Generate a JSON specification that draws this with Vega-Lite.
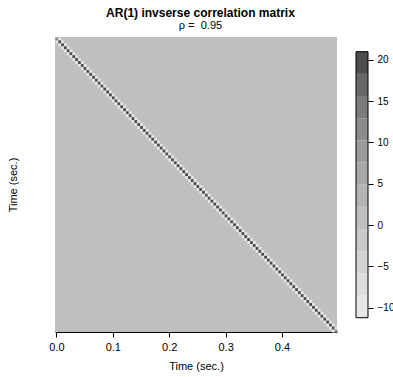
{
  "$schema": "https://vega.github.io/schema/vega-lite/v6.json",
  "padding": {"left": 7, "top": 7, "right": 5, "bottom": 5},
  "background": "white",
  "title": {"text": "AR(1) invserse correlation matrix", "subtitle": "ρ = \u00a00.95", "fontSize": 12, "fontWeight": "bold", "subtitleFontSize": 11, "color": "#000", "subtitleColor": "#000", "anchor": "middle", "font": "Liberation Sans", "subtitleFont": "Liberation Sans", "subtitlePadding": 0, "offset": 5},
  "spacing": 17,
  "hconcat": [
    {
      "width": 282,
      "height": 295,
      "layer": [
        {
          "data": {"values": [{"t": -0.0025, "t_end": 0.4975, "s": -0.0025, "s_end": 0.4975, "v": 0}]},
          "mark": {"type": "rect"},
          "encoding": {
            "x": {"field": "t", "type": "quantitative", "title": "Time (sec.)", "scale": {"domain": [-0.0025, 0.4975], "nice": false, "zero": false},
                  "axis": {"values": [0, 0.1, 0.2, 0.3, 0.4], "format": ".1f", "tickSize": 5, "labelFontSize": 11, "labelPadding": 4, "titleFontSize": 11, "titlePadding": 8}},
            "x2": {"field": "t_end"},
            "y": {"field": "s", "type": "quantitative", "title": "Time (sec.)", "scale": {"domain": [-0.0025, 0.4975], "nice": false, "zero": false, "reverse": true},
                  "axis": {"labels": false, "ticks": false, "domain": false, "titleFontSize": 11, "titlePadding": 37}},
            "y2": {"field": "s_end"},
            "color": {"field": "v", "type": "quantitative", "legend": null,
                      "scale": {"type": "threshold", "domain": [-8.5246, -5.8428, -3.1609, -0.4791, 2.2027, 4.8846, 7.5664, 10.2482, 12.9301, 15.6119, 18.2937],
                                "range": ["#E6E6E6", "#DDDDDD", "#D3D3D3", "#CACACA", "#BFBFBF", "#B4B4B4", "#A8A8A8", "#9B9B9B", "#8C8C8C", "#7B7B7B", "#676767", "#4D4D4D"]}}
          }
        },
        {
          "data": {"values": [
{"t":0,"s":0,"v":10.26},{"t":0.005,"s":0,"v":-9.74},{"t":0,"s":0.005,"v":-9.74},
{"t":0.005,"s":0.005,"v":19.51},{"t":0.01,"s":0.005,"v":-9.74},{"t":0.005,"s":0.01,"v":-9.74},
{"t":0.01,"s":0.01,"v":19.51},{"t":0.015,"s":0.01,"v":-9.74},{"t":0.01,"s":0.015,"v":-9.74},
{"t":0.015,"s":0.015,"v":19.51},{"t":0.02,"s":0.015,"v":-9.74},{"t":0.015,"s":0.02,"v":-9.74},
{"t":0.02,"s":0.02,"v":19.51},{"t":0.025,"s":0.02,"v":-9.74},{"t":0.02,"s":0.025,"v":-9.74},
{"t":0.025,"s":0.025,"v":19.51},{"t":0.03,"s":0.025,"v":-9.74},{"t":0.025,"s":0.03,"v":-9.74},
{"t":0.03,"s":0.03,"v":19.51},{"t":0.035,"s":0.03,"v":-9.74},{"t":0.03,"s":0.035,"v":-9.74},
{"t":0.035,"s":0.035,"v":19.51},{"t":0.04,"s":0.035,"v":-9.74},{"t":0.035,"s":0.04,"v":-9.74},
{"t":0.04,"s":0.04,"v":19.51},{"t":0.045,"s":0.04,"v":-9.74},{"t":0.04,"s":0.045,"v":-9.74},
{"t":0.045,"s":0.045,"v":19.51},{"t":0.05,"s":0.045,"v":-9.74},{"t":0.045,"s":0.05,"v":-9.74},
{"t":0.05,"s":0.05,"v":19.51},{"t":0.055,"s":0.05,"v":-9.74},{"t":0.05,"s":0.055,"v":-9.74},
{"t":0.055,"s":0.055,"v":19.51},{"t":0.06,"s":0.055,"v":-9.74},{"t":0.055,"s":0.06,"v":-9.74},
{"t":0.06,"s":0.06,"v":19.51},{"t":0.065,"s":0.06,"v":-9.74},{"t":0.06,"s":0.065,"v":-9.74},
{"t":0.065,"s":0.065,"v":19.51},{"t":0.07,"s":0.065,"v":-9.74},{"t":0.065,"s":0.07,"v":-9.74},
{"t":0.07,"s":0.07,"v":19.51},{"t":0.075,"s":0.07,"v":-9.74},{"t":0.07,"s":0.075,"v":-9.74},
{"t":0.075,"s":0.075,"v":19.51},{"t":0.08,"s":0.075,"v":-9.74},{"t":0.075,"s":0.08,"v":-9.74},
{"t":0.08,"s":0.08,"v":19.51},{"t":0.085,"s":0.08,"v":-9.74},{"t":0.08,"s":0.085,"v":-9.74},
{"t":0.085,"s":0.085,"v":19.51},{"t":0.09,"s":0.085,"v":-9.74},{"t":0.085,"s":0.09,"v":-9.74},
{"t":0.09,"s":0.09,"v":19.51},{"t":0.095,"s":0.09,"v":-9.74},{"t":0.09,"s":0.095,"v":-9.74},
{"t":0.095,"s":0.095,"v":19.51},{"t":0.1,"s":0.095,"v":-9.74},{"t":0.095,"s":0.1,"v":-9.74},
{"t":0.1,"s":0.1,"v":19.51},{"t":0.105,"s":0.1,"v":-9.74},{"t":0.1,"s":0.105,"v":-9.74},
{"t":0.105,"s":0.105,"v":19.51},{"t":0.11,"s":0.105,"v":-9.74},{"t":0.105,"s":0.11,"v":-9.74},
{"t":0.11,"s":0.11,"v":19.51},{"t":0.115,"s":0.11,"v":-9.74},{"t":0.11,"s":0.115,"v":-9.74},
{"t":0.115,"s":0.115,"v":19.51},{"t":0.12,"s":0.115,"v":-9.74},{"t":0.115,"s":0.12,"v":-9.74},
{"t":0.12,"s":0.12,"v":19.51},{"t":0.125,"s":0.12,"v":-9.74},{"t":0.12,"s":0.125,"v":-9.74},
{"t":0.125,"s":0.125,"v":19.51},{"t":0.13,"s":0.125,"v":-9.74},{"t":0.125,"s":0.13,"v":-9.74},
{"t":0.13,"s":0.13,"v":19.51},{"t":0.135,"s":0.13,"v":-9.74},{"t":0.13,"s":0.135,"v":-9.74},
{"t":0.135,"s":0.135,"v":19.51},{"t":0.14,"s":0.135,"v":-9.74},{"t":0.135,"s":0.14,"v":-9.74},
{"t":0.14,"s":0.14,"v":19.51},{"t":0.145,"s":0.14,"v":-9.74},{"t":0.14,"s":0.145,"v":-9.74},
{"t":0.145,"s":0.145,"v":19.51},{"t":0.15,"s":0.145,"v":-9.74},{"t":0.145,"s":0.15,"v":-9.74},
{"t":0.15,"s":0.15,"v":19.51},{"t":0.155,"s":0.15,"v":-9.74},{"t":0.15,"s":0.155,"v":-9.74},
{"t":0.155,"s":0.155,"v":19.51},{"t":0.16,"s":0.155,"v":-9.74},{"t":0.155,"s":0.16,"v":-9.74},
{"t":0.16,"s":0.16,"v":19.51},{"t":0.165,"s":0.16,"v":-9.74},{"t":0.16,"s":0.165,"v":-9.74},
{"t":0.165,"s":0.165,"v":19.51},{"t":0.17,"s":0.165,"v":-9.74},{"t":0.165,"s":0.17,"v":-9.74},
{"t":0.17,"s":0.17,"v":19.51},{"t":0.175,"s":0.17,"v":-9.74},{"t":0.17,"s":0.175,"v":-9.74},
{"t":0.175,"s":0.175,"v":19.51},{"t":0.18,"s":0.175,"v":-9.74},{"t":0.175,"s":0.18,"v":-9.74},
{"t":0.18,"s":0.18,"v":19.51},{"t":0.185,"s":0.18,"v":-9.74},{"t":0.18,"s":0.185,"v":-9.74},
{"t":0.185,"s":0.185,"v":19.51},{"t":0.19,"s":0.185,"v":-9.74},{"t":0.185,"s":0.19,"v":-9.74},
{"t":0.19,"s":0.19,"v":19.51},{"t":0.195,"s":0.19,"v":-9.74},{"t":0.19,"s":0.195,"v":-9.74},
{"t":0.195,"s":0.195,"v":19.51},{"t":0.2,"s":0.195,"v":-9.74},{"t":0.195,"s":0.2,"v":-9.74},
{"t":0.2,"s":0.2,"v":19.51},{"t":0.205,"s":0.2,"v":-9.74},{"t":0.2,"s":0.205,"v":-9.74},
{"t":0.205,"s":0.205,"v":19.51},{"t":0.21,"s":0.205,"v":-9.74},{"t":0.205,"s":0.21,"v":-9.74},
{"t":0.21,"s":0.21,"v":19.51},{"t":0.215,"s":0.21,"v":-9.74},{"t":0.21,"s":0.215,"v":-9.74},
{"t":0.215,"s":0.215,"v":19.51},{"t":0.22,"s":0.215,"v":-9.74},{"t":0.215,"s":0.22,"v":-9.74},
{"t":0.22,"s":0.22,"v":19.51},{"t":0.225,"s":0.22,"v":-9.74},{"t":0.22,"s":0.225,"v":-9.74},
{"t":0.225,"s":0.225,"v":19.51},{"t":0.23,"s":0.225,"v":-9.74},{"t":0.225,"s":0.23,"v":-9.74},
{"t":0.23,"s":0.23,"v":19.51},{"t":0.235,"s":0.23,"v":-9.74},{"t":0.23,"s":0.235,"v":-9.74},
{"t":0.235,"s":0.235,"v":19.51},{"t":0.24,"s":0.235,"v":-9.74},{"t":0.235,"s":0.24,"v":-9.74},
{"t":0.24,"s":0.24,"v":19.51},{"t":0.245,"s":0.24,"v":-9.74},{"t":0.24,"s":0.245,"v":-9.74},
{"t":0.245,"s":0.245,"v":19.51},{"t":0.25,"s":0.245,"v":-9.74},{"t":0.245,"s":0.25,"v":-9.74},
{"t":0.25,"s":0.25,"v":19.51},{"t":0.255,"s":0.25,"v":-9.74},{"t":0.25,"s":0.255,"v":-9.74},
{"t":0.255,"s":0.255,"v":19.51},{"t":0.26,"s":0.255,"v":-9.74},{"t":0.255,"s":0.26,"v":-9.74},
{"t":0.26,"s":0.26,"v":19.51},{"t":0.265,"s":0.26,"v":-9.74},{"t":0.26,"s":0.265,"v":-9.74},
{"t":0.265,"s":0.265,"v":19.51},{"t":0.27,"s":0.265,"v":-9.74},{"t":0.265,"s":0.27,"v":-9.74},
{"t":0.27,"s":0.27,"v":19.51},{"t":0.275,"s":0.27,"v":-9.74},{"t":0.27,"s":0.275,"v":-9.74},
{"t":0.275,"s":0.275,"v":19.51},{"t":0.28,"s":0.275,"v":-9.74},{"t":0.275,"s":0.28,"v":-9.74},
{"t":0.28,"s":0.28,"v":19.51},{"t":0.285,"s":0.28,"v":-9.74},{"t":0.28,"s":0.285,"v":-9.74},
{"t":0.285,"s":0.285,"v":19.51},{"t":0.29,"s":0.285,"v":-9.74},{"t":0.285,"s":0.29,"v":-9.74},
{"t":0.29,"s":0.29,"v":19.51},{"t":0.295,"s":0.29,"v":-9.74},{"t":0.29,"s":0.295,"v":-9.74},
{"t":0.295,"s":0.295,"v":19.51},{"t":0.3,"s":0.295,"v":-9.74},{"t":0.295,"s":0.3,"v":-9.74},
{"t":0.3,"s":0.3,"v":19.51},{"t":0.305,"s":0.3,"v":-9.74},{"t":0.3,"s":0.305,"v":-9.74},
{"t":0.305,"s":0.305,"v":19.51},{"t":0.31,"s":0.305,"v":-9.74},{"t":0.305,"s":0.31,"v":-9.74},
{"t":0.31,"s":0.31,"v":19.51},{"t":0.315,"s":0.31,"v":-9.74},{"t":0.31,"s":0.315,"v":-9.74},
{"t":0.315,"s":0.315,"v":19.51},{"t":0.32,"s":0.315,"v":-9.74},{"t":0.315,"s":0.32,"v":-9.74},
{"t":0.32,"s":0.32,"v":19.51},{"t":0.325,"s":0.32,"v":-9.74},{"t":0.32,"s":0.325,"v":-9.74},
{"t":0.325,"s":0.325,"v":19.51},{"t":0.33,"s":0.325,"v":-9.74},{"t":0.325,"s":0.33,"v":-9.74},
{"t":0.33,"s":0.33,"v":19.51},{"t":0.335,"s":0.33,"v":-9.74},{"t":0.33,"s":0.335,"v":-9.74},
{"t":0.335,"s":0.335,"v":19.51},{"t":0.34,"s":0.335,"v":-9.74},{"t":0.335,"s":0.34,"v":-9.74},
{"t":0.34,"s":0.34,"v":19.51},{"t":0.345,"s":0.34,"v":-9.74},{"t":0.34,"s":0.345,"v":-9.74},
{"t":0.345,"s":0.345,"v":19.51},{"t":0.35,"s":0.345,"v":-9.74},{"t":0.345,"s":0.35,"v":-9.74},
{"t":0.35,"s":0.35,"v":19.51},{"t":0.355,"s":0.35,"v":-9.74},{"t":0.35,"s":0.355,"v":-9.74},
{"t":0.355,"s":0.355,"v":19.51},{"t":0.36,"s":0.355,"v":-9.74},{"t":0.355,"s":0.36,"v":-9.74},
{"t":0.36,"s":0.36,"v":19.51},{"t":0.365,"s":0.36,"v":-9.74},{"t":0.36,"s":0.365,"v":-9.74},
{"t":0.365,"s":0.365,"v":19.51},{"t":0.37,"s":0.365,"v":-9.74},{"t":0.365,"s":0.37,"v":-9.74},
{"t":0.37,"s":0.37,"v":19.51},{"t":0.375,"s":0.37,"v":-9.74},{"t":0.37,"s":0.375,"v":-9.74},
{"t":0.375,"s":0.375,"v":19.51},{"t":0.38,"s":0.375,"v":-9.74},{"t":0.375,"s":0.38,"v":-9.74},
{"t":0.38,"s":0.38,"v":19.51},{"t":0.385,"s":0.38,"v":-9.74},{"t":0.38,"s":0.385,"v":-9.74},
{"t":0.385,"s":0.385,"v":19.51},{"t":0.39,"s":0.385,"v":-9.74},{"t":0.385,"s":0.39,"v":-9.74},
{"t":0.39,"s":0.39,"v":19.51},{"t":0.395,"s":0.39,"v":-9.74},{"t":0.39,"s":0.395,"v":-9.74},
{"t":0.395,"s":0.395,"v":19.51},{"t":0.4,"s":0.395,"v":-9.74},{"t":0.395,"s":0.4,"v":-9.74},
{"t":0.4,"s":0.4,"v":19.51},{"t":0.405,"s":0.4,"v":-9.74},{"t":0.4,"s":0.405,"v":-9.74},
{"t":0.405,"s":0.405,"v":19.51},{"t":0.41,"s":0.405,"v":-9.74},{"t":0.405,"s":0.41,"v":-9.74},
{"t":0.41,"s":0.41,"v":19.51},{"t":0.415,"s":0.41,"v":-9.74},{"t":0.41,"s":0.415,"v":-9.74},
{"t":0.415,"s":0.415,"v":19.51},{"t":0.42,"s":0.415,"v":-9.74},{"t":0.415,"s":0.42,"v":-9.74},
{"t":0.42,"s":0.42,"v":19.51},{"t":0.425,"s":0.42,"v":-9.74},{"t":0.42,"s":0.425,"v":-9.74},
{"t":0.425,"s":0.425,"v":19.51},{"t":0.43,"s":0.425,"v":-9.74},{"t":0.425,"s":0.43,"v":-9.74},
{"t":0.43,"s":0.43,"v":19.51},{"t":0.435,"s":0.43,"v":-9.74},{"t":0.43,"s":0.435,"v":-9.74},
{"t":0.435,"s":0.435,"v":19.51},{"t":0.44,"s":0.435,"v":-9.74},{"t":0.435,"s":0.44,"v":-9.74},
{"t":0.44,"s":0.44,"v":19.51},{"t":0.445,"s":0.44,"v":-9.74},{"t":0.44,"s":0.445,"v":-9.74},
{"t":0.445,"s":0.445,"v":19.51},{"t":0.45,"s":0.445,"v":-9.74},{"t":0.445,"s":0.45,"v":-9.74},
{"t":0.45,"s":0.45,"v":19.51},{"t":0.455,"s":0.45,"v":-9.74},{"t":0.45,"s":0.455,"v":-9.74},
{"t":0.455,"s":0.455,"v":19.51},{"t":0.46,"s":0.455,"v":-9.74},{"t":0.455,"s":0.46,"v":-9.74},
{"t":0.46,"s":0.46,"v":19.51},{"t":0.465,"s":0.46,"v":-9.74},{"t":0.46,"s":0.465,"v":-9.74},
{"t":0.465,"s":0.465,"v":19.51},{"t":0.47,"s":0.465,"v":-9.74},{"t":0.465,"s":0.47,"v":-9.74},
{"t":0.47,"s":0.47,"v":19.51},{"t":0.475,"s":0.47,"v":-9.74},{"t":0.47,"s":0.475,"v":-9.74},
{"t":0.475,"s":0.475,"v":19.51},{"t":0.48,"s":0.475,"v":-9.74},{"t":0.475,"s":0.48,"v":-9.74},
{"t":0.48,"s":0.48,"v":19.51},{"t":0.485,"s":0.48,"v":-9.74},{"t":0.48,"s":0.485,"v":-9.74},
{"t":0.485,"s":0.485,"v":19.51},{"t":0.49,"s":0.485,"v":-9.74},{"t":0.485,"s":0.49,"v":-9.74},
{"t":0.49,"s":0.49,"v":19.51},{"t":0.495,"s":0.49,"v":-9.74},{"t":0.49,"s":0.495,"v":-9.74},
{"t":0.495,"s":0.495,"v":10.26}
          ]},
          "mark": {"type": "rect", "binSpacing": 0},
          "encoding": {
            "x": {"field": "t", "type": "quantitative", "title": "Time (sec.)", "bin": {"step": 0.005, "extent": [-0.0025, 0.4975], "nice": false},
                  "axis": {"values": [0, 0.1, 0.2, 0.3, 0.4], "format": ".1f", "tickSize": 5, "labelFontSize": 11, "labelPadding": 4, "titleFontSize": 11, "titlePadding": 8}},
            "y": {"field": "s", "type": "quantitative", "title": "Time (sec.)", "bin": {"step": 0.005, "extent": [-0.0025, 0.4975], "nice": false},
                  "axis": {"labels": false, "ticks": false, "domain": false, "titleFontSize": 11, "titlePadding": 37}},
            "color": {"field": "v", "type": "quantitative", "legend": null,
                      "scale": {"type": "threshold", "domain": [-8.5246, -5.8428, -3.1609, -0.4791, 2.2027, 4.8846, 7.5664, 10.2482, 12.9301, 15.6119, 18.2937],
                                "range": ["#E6E6E6", "#DDDDDD", "#D3D3D3", "#CACACA", "#BFBFBF", "#B4B4B4", "#A8A8A8", "#9B9B9B", "#8C8C8C", "#7B7B7B", "#676767", "#4D4D4D"]}}
          }
        }
      ]
    },
    {
      "width": 12,
      "height": 295,
      "layer": [
        {
          "data": {"values": [
            {"lo": -11.2064, "hi": -8.5246},
            {"lo": -8.5246, "hi": -5.8428},
            {"lo": -5.8428, "hi": -3.1609},
            {"lo": -3.1609, "hi": -0.4791},
            {"lo": -0.4791, "hi": 2.2027},
            {"lo": 2.2027, "hi": 4.8846},
            {"lo": 4.8846, "hi": 7.5664},
            {"lo": 7.5664, "hi": 10.2482},
            {"lo": 10.2482, "hi": 12.9301},
            {"lo": 12.9301, "hi": 15.6119},
            {"lo": 15.6119, "hi": 18.2937},
            {"lo": 18.2937, "hi": 20.9756}
          ]},
          "mark": {"type": "rect"},
          "encoding": {
            "x": {"datum": 0, "type": "quantitative", "scale": {"domain": [0, 1], "nice": false, "zero": false}, "axis": null},
            "x2": {"datum": 1},
            "y": {"field": "lo", "type": "quantitative", "title": null, "scale": {"domain": [-12.936, 22.754], "nice": false, "zero": false},
                  "axis": {"orient": "right", "values": [-10, -5, 0, 5, 10, 15, 20], "domain": false, "tickSize": 5, "labelFontSize": 10, "labelPadding": 4, "title": null}},
            "y2": {"field": "hi"},
            "color": {"field": "lo", "type": "quantitative", "legend": null,
                      "scale": {"type": "threshold", "domain": [-8.5246, -5.8428, -3.1609, -0.4791, 2.2027, 4.8846, 7.5664, 10.2482, 12.9301, 15.6119, 18.2937],
                                "range": ["#E6E6E6", "#DDDDDD", "#D3D3D3", "#CACACA", "#BFBFBF", "#B4B4B4", "#A8A8A8", "#9B9B9B", "#8C8C8C", "#7B7B7B", "#676767", "#4D4D4D"]}}
          }
        },
        {
          "data": {"values": [{"lo": -11.2064, "hi": 20.9756}]},
          "mark": {"type": "rect", "fillOpacity": 0, "stroke": "#000", "strokeWidth": 1},
          "encoding": {
            "x": {"datum": 0, "type": "quantitative"},
            "x2": {"datum": 1},
            "y": {"field": "lo", "type": "quantitative"},
            "y2": {"field": "hi"}
          }
        }
      ]
    }
  ],
  "config": {
    "font": "Liberation Sans",
    "view": {"stroke": null},
    "axis": {"grid": false, "labelFont": "Liberation Sans", "titleFont": "Liberation Sans", "titleFontWeight": "normal", "labelColor": "#000", "titleColor": "#000", "domainColor": "#000", "tickColor": "#000"}
  }
}
